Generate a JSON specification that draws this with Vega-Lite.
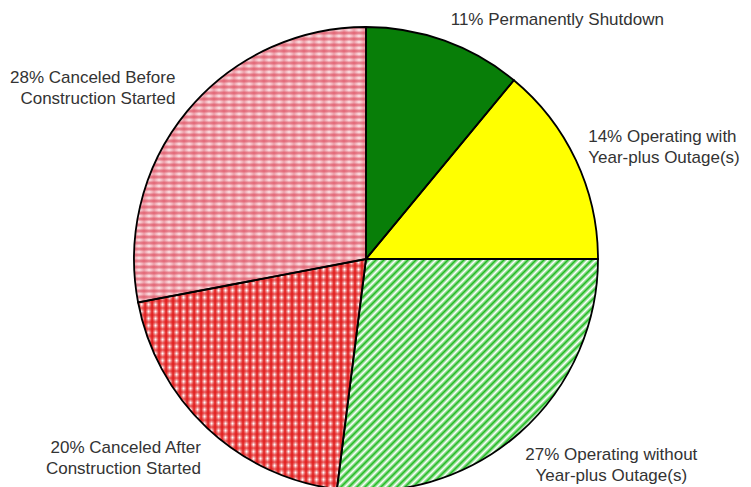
{
  "$schema": "https://vega.github.io/schema/vega-lite/v6.json",
  "autosize": {"type": "none"},
  "width": 732,
  "height": 456,
  "padding": {"left": 0, "top": 31, "right": 19, "bottom": 0},
  "background": "white",
  "config": {"view": {"stroke": null}},
  "data": {"values": [
    {"order": 1, "label": "11% Permanently Shutdown", "pct": 11},
    {"order": 2, "label": "14% Operating with\nYear-plus Outage(s)", "pct": 14},
    {"order": 3, "label": "27% Operating without\nYear-plus Outage(s)", "pct": 27},
    {"order": 4, "label": "20% Canceled After\nConstruction Started", "pct": 20},
    {"order": 5, "label": "28% Canceled Before\nConstruction Started", "pct": 28}
  ]},
  "encoding": {
    "theta": {"field": "pct", "type": "quantitative", "stack": true},
    "order": {"field": "order", "type": "quantitative"}
  },
  "layer": [
    {
      "mark": {"type": "arc", "outerRadius": 232, "strokeWidth": 0},
      "encoding": {
        "fill": {
          "condition": [
            {"test": "datum.order == 1", "value": "#087e08"},
            {"test": "datum.order == 2", "value": "#ffff00"},
            {"test": "datum.order == 3", "value": {"gradient": "linear", "x1": 0, "y1": 0, "x2": 0.856, "y2": 0.761, "stops": [
              {"offset":0,"color":"#2b2"},{"offset":0.01,"color":"#fff"},{"offset":0.02,"color":"#2b2"},{"offset":0.03,"color":"#fff"},{"offset":0.04,"color":"#2b2"},{"offset":0.05,"color":"#fff"},{"offset":0.06,"color":"#2b2"},{"offset":0.07,"color":"#fff"},{"offset":0.08,"color":"#2b2"},{"offset":0.09,"color":"#fff"},
              {"offset":0.1,"color":"#2b2"},{"offset":0.11,"color":"#fff"},{"offset":0.12,"color":"#2b2"},{"offset":0.13,"color":"#fff"},{"offset":0.14,"color":"#2b2"},{"offset":0.15,"color":"#fff"},{"offset":0.16,"color":"#2b2"},{"offset":0.17,"color":"#fff"},{"offset":0.18,"color":"#2b2"},{"offset":0.19,"color":"#fff"},
              {"offset":0.2,"color":"#2b2"},{"offset":0.21,"color":"#fff"},{"offset":0.22,"color":"#2b2"},{"offset":0.23,"color":"#fff"},{"offset":0.24,"color":"#2b2"},{"offset":0.25,"color":"#fff"},{"offset":0.26,"color":"#2b2"},{"offset":0.27,"color":"#fff"},{"offset":0.28,"color":"#2b2"},{"offset":0.29,"color":"#fff"},
              {"offset":0.3,"color":"#2b2"},{"offset":0.31,"color":"#fff"},{"offset":0.32,"color":"#2b2"},{"offset":0.33,"color":"#fff"},{"offset":0.34,"color":"#2b2"},{"offset":0.35,"color":"#fff"},{"offset":0.36,"color":"#2b2"},{"offset":0.37,"color":"#fff"},{"offset":0.38,"color":"#2b2"},{"offset":0.39,"color":"#fff"},
              {"offset":0.4,"color":"#2b2"},{"offset":0.41,"color":"#fff"},{"offset":0.42,"color":"#2b2"},{"offset":0.43,"color":"#fff"},{"offset":0.44,"color":"#2b2"},{"offset":0.45,"color":"#fff"},{"offset":0.46,"color":"#2b2"},{"offset":0.47,"color":"#fff"},{"offset":0.48,"color":"#2b2"},{"offset":0.49,"color":"#fff"},
              {"offset":0.5,"color":"#2b2"},{"offset":0.51,"color":"#fff"},{"offset":0.52,"color":"#2b2"},{"offset":0.53,"color":"#fff"},{"offset":0.54,"color":"#2b2"},{"offset":0.55,"color":"#fff"},{"offset":0.56,"color":"#2b2"},{"offset":0.57,"color":"#fff"},{"offset":0.58,"color":"#2b2"},{"offset":0.59,"color":"#fff"},
              {"offset":0.6,"color":"#2b2"},{"offset":0.61,"color":"#fff"},{"offset":0.62,"color":"#2b2"},{"offset":0.63,"color":"#fff"},{"offset":0.64,"color":"#2b2"},{"offset":0.65,"color":"#fff"},{"offset":0.66,"color":"#2b2"},{"offset":0.67,"color":"#fff"},{"offset":0.68,"color":"#2b2"},{"offset":0.69,"color":"#fff"},
              {"offset":0.7,"color":"#2b2"},{"offset":0.71,"color":"#fff"},{"offset":0.72,"color":"#2b2"},{"offset":0.73,"color":"#fff"},{"offset":0.74,"color":"#2b2"},{"offset":0.75,"color":"#fff"},{"offset":0.76,"color":"#2b2"},{"offset":0.77,"color":"#fff"},{"offset":0.78,"color":"#2b2"},{"offset":0.79,"color":"#fff"},
              {"offset":0.8,"color":"#2b2"},{"offset":0.81,"color":"#fff"},{"offset":0.82,"color":"#2b2"},{"offset":0.83,"color":"#fff"},{"offset":0.84,"color":"#2b2"},{"offset":0.85,"color":"#fff"},{"offset":0.86,"color":"#2b2"},{"offset":0.87,"color":"#fff"},{"offset":0.88,"color":"#2b2"},{"offset":0.89,"color":"#fff"},
              {"offset":0.9,"color":"#2b2"},{"offset":0.91,"color":"#fff"},{"offset":0.92,"color":"#2b2"},{"offset":0.93,"color":"#fff"},{"offset":0.94,"color":"#2b2"},{"offset":0.95,"color":"#fff"},{"offset":0.96,"color":"#2b2"},{"offset":0.97,"color":"#fff"},{"offset":0.98,"color":"#2b2"},{"offset":0.99,"color":"#fff"},
              {"offset":1,"color":"#2b2"}
            ]}},
            {"test": "datum.order == 4", "value": {"gradient": "linear", "x1": 0, "y1": 0, "x2": 1.228, "y2": 0, "stops": [
              {"offset":0,"color":"#e01818"},{"offset":0.0125,"color":"#fff"},{"offset":0.025,"color":"#e01818"},{"offset":0.0375,"color":"#fff"},{"offset":0.05,"color":"#e01818"},{"offset":0.0625,"color":"#fff"},{"offset":0.075,"color":"#e01818"},{"offset":0.0875,"color":"#fff"},
              {"offset":0.1,"color":"#e01818"},{"offset":0.1125,"color":"#fff"},{"offset":0.125,"color":"#e01818"},{"offset":0.1375,"color":"#fff"},{"offset":0.15,"color":"#e01818"},{"offset":0.1625,"color":"#fff"},{"offset":0.175,"color":"#e01818"},{"offset":0.1875,"color":"#fff"},
              {"offset":0.2,"color":"#e01818"},{"offset":0.2125,"color":"#fff"},{"offset":0.225,"color":"#e01818"},{"offset":0.2375,"color":"#fff"},{"offset":0.25,"color":"#e01818"},{"offset":0.2625,"color":"#fff"},{"offset":0.275,"color":"#e01818"},{"offset":0.2875,"color":"#fff"},
              {"offset":0.3,"color":"#e01818"},{"offset":0.3125,"color":"#fff"},{"offset":0.325,"color":"#e01818"},{"offset":0.3375,"color":"#fff"},{"offset":0.35,"color":"#e01818"},{"offset":0.3625,"color":"#fff"},{"offset":0.375,"color":"#e01818"},{"offset":0.3875,"color":"#fff"},
              {"offset":0.4,"color":"#e01818"},{"offset":0.4125,"color":"#fff"},{"offset":0.425,"color":"#e01818"},{"offset":0.4375,"color":"#fff"},{"offset":0.45,"color":"#e01818"},{"offset":0.4625,"color":"#fff"},{"offset":0.475,"color":"#e01818"},{"offset":0.4875,"color":"#fff"},
              {"offset":0.5,"color":"#e01818"},{"offset":0.5125,"color":"#fff"},{"offset":0.525,"color":"#e01818"},{"offset":0.5375,"color":"#fff"},{"offset":0.55,"color":"#e01818"},{"offset":0.5625,"color":"#fff"},{"offset":0.575,"color":"#e01818"},{"offset":0.5875,"color":"#fff"},
              {"offset":0.6,"color":"#e01818"},{"offset":0.6125,"color":"#fff"},{"offset":0.625,"color":"#e01818"},{"offset":0.6375,"color":"#fff"},{"offset":0.65,"color":"#e01818"},{"offset":0.6625,"color":"#fff"},{"offset":0.675,"color":"#e01818"},{"offset":0.6875,"color":"#fff"},
              {"offset":0.7,"color":"#e01818"},{"offset":0.7125,"color":"#fff"},{"offset":0.725,"color":"#e01818"},{"offset":0.7375,"color":"#fff"},{"offset":0.75,"color":"#e01818"},{"offset":0.7625,"color":"#fff"},{"offset":0.775,"color":"#e01818"},{"offset":0.7875,"color":"#fff"},
              {"offset":0.8,"color":"#e01818"},{"offset":0.8125,"color":"#fff"},{"offset":0.825,"color":"#e01818"},{"offset":0.8375,"color":"#fff"},{"offset":0.85,"color":"#e01818"},{"offset":0.8625,"color":"#fff"},{"offset":0.875,"color":"#e01818"},{"offset":0.8875,"color":"#fff"},
              {"offset":0.9,"color":"#e01818"},{"offset":0.9125,"color":"#fff"},{"offset":0.925,"color":"#e01818"},{"offset":0.9375,"color":"#fff"},{"offset":0.95,"color":"#e01818"},{"offset":0.9625,"color":"#fff"},{"offset":0.975,"color":"#e01818"},{"offset":0.9875,"color":"#fff"},
              {"offset":1,"color":"#e01818"}
            ]}}
          ],
          "value": {"gradient": "linear", "x1": 0, "y1": 0, "x2": 0, "y2": 1.089, "stops": [
            {"offset":0,"color":"#e4707e"},{"offset":0.01,"color":"#fff4f5"},{"offset":0.02,"color":"#e4707e"},{"offset":0.03,"color":"#fff4f5"},{"offset":0.04,"color":"#e4707e"},{"offset":0.05,"color":"#fff4f5"},{"offset":0.06,"color":"#e4707e"},{"offset":0.07,"color":"#fff4f5"},{"offset":0.08,"color":"#e4707e"},{"offset":0.09,"color":"#fff4f5"},
            {"offset":0.1,"color":"#e4707e"},{"offset":0.11,"color":"#fff4f5"},{"offset":0.12,"color":"#e4707e"},{"offset":0.13,"color":"#fff4f5"},{"offset":0.14,"color":"#e4707e"},{"offset":0.15,"color":"#fff4f5"},{"offset":0.16,"color":"#e4707e"},{"offset":0.17,"color":"#fff4f5"},{"offset":0.18,"color":"#e4707e"},{"offset":0.19,"color":"#fff4f5"},
            {"offset":0.2,"color":"#e4707e"},{"offset":0.21,"color":"#fff4f5"},{"offset":0.22,"color":"#e4707e"},{"offset":0.23,"color":"#fff4f5"},{"offset":0.24,"color":"#e4707e"},{"offset":0.25,"color":"#fff4f5"},{"offset":0.26,"color":"#e4707e"},{"offset":0.27,"color":"#fff4f5"},{"offset":0.28,"color":"#e4707e"},{"offset":0.29,"color":"#fff4f5"},
            {"offset":0.3,"color":"#e4707e"},{"offset":0.31,"color":"#fff4f5"},{"offset":0.32,"color":"#e4707e"},{"offset":0.33,"color":"#fff4f5"},{"offset":0.34,"color":"#e4707e"},{"offset":0.35,"color":"#fff4f5"},{"offset":0.36,"color":"#e4707e"},{"offset":0.37,"color":"#fff4f5"},{"offset":0.38,"color":"#e4707e"},{"offset":0.39,"color":"#fff4f5"},
            {"offset":0.4,"color":"#e4707e"},{"offset":0.41,"color":"#fff4f5"},{"offset":0.42,"color":"#e4707e"},{"offset":0.43,"color":"#fff4f5"},{"offset":0.44,"color":"#e4707e"},{"offset":0.45,"color":"#fff4f5"},{"offset":0.46,"color":"#e4707e"},{"offset":0.47,"color":"#fff4f5"},{"offset":0.48,"color":"#e4707e"},{"offset":0.49,"color":"#fff4f5"},
            {"offset":0.5,"color":"#e4707e"},{"offset":0.51,"color":"#fff4f5"},{"offset":0.52,"color":"#e4707e"},{"offset":0.53,"color":"#fff4f5"},{"offset":0.54,"color":"#e4707e"},{"offset":0.55,"color":"#fff4f5"},{"offset":0.56,"color":"#e4707e"},{"offset":0.57,"color":"#fff4f5"},{"offset":0.58,"color":"#e4707e"},{"offset":0.59,"color":"#fff4f5"},
            {"offset":0.6,"color":"#e4707e"},{"offset":0.61,"color":"#fff4f5"},{"offset":0.62,"color":"#e4707e"},{"offset":0.63,"color":"#fff4f5"},{"offset":0.64,"color":"#e4707e"},{"offset":0.65,"color":"#fff4f5"},{"offset":0.66,"color":"#e4707e"},{"offset":0.67,"color":"#fff4f5"},{"offset":0.68,"color":"#e4707e"},{"offset":0.69,"color":"#fff4f5"},
            {"offset":0.7,"color":"#e4707e"},{"offset":0.71,"color":"#fff4f5"},{"offset":0.72,"color":"#e4707e"},{"offset":0.73,"color":"#fff4f5"},{"offset":0.74,"color":"#e4707e"},{"offset":0.75,"color":"#fff4f5"},{"offset":0.76,"color":"#e4707e"},{"offset":0.77,"color":"#fff4f5"},{"offset":0.78,"color":"#e4707e"},{"offset":0.79,"color":"#fff4f5"},
            {"offset":0.8,"color":"#e4707e"},{"offset":0.81,"color":"#fff4f5"},{"offset":0.82,"color":"#e4707e"},{"offset":0.83,"color":"#fff4f5"},{"offset":0.84,"color":"#e4707e"},{"offset":0.85,"color":"#fff4f5"},{"offset":0.86,"color":"#e4707e"},{"offset":0.87,"color":"#fff4f5"},{"offset":0.88,"color":"#e4707e"},{"offset":0.89,"color":"#fff4f5"},
            {"offset":0.9,"color":"#e4707e"},{"offset":0.91,"color":"#fff4f5"},{"offset":0.92,"color":"#e4707e"},{"offset":0.93,"color":"#fff4f5"},{"offset":0.94,"color":"#e4707e"},{"offset":0.95,"color":"#fff4f5"},{"offset":0.96,"color":"#e4707e"},{"offset":0.97,"color":"#fff4f5"},{"offset":0.98,"color":"#e4707e"},{"offset":0.99,"color":"#fff4f5"},
            {"offset":1,"color":"#e4707e"}
          ]}
        }
      }
    },
    {
      "mark": {"type": "arc", "outerRadius": 232, "stroke": "#000000", "strokeWidth": 1.8},
      "encoding": {
        "fill": {
          "condition": [
            {"test": "datum.order == 4", "value": {"gradient": "linear", "x1": 0, "y1": 0, "x2": 0, "y2": 1.217, "stops": [
              {"offset":0,"color":"rgba(224,24,24,0.75)"},{"offset":0.0125,"color":"rgba(224,24,24,0)"},{"offset":0.025,"color":"rgba(224,24,24,0.75)"},{"offset":0.0375,"color":"rgba(224,24,24,0)"},{"offset":0.05,"color":"rgba(224,24,24,0.75)"},{"offset":0.0625,"color":"rgba(224,24,24,0)"},{"offset":0.075,"color":"rgba(224,24,24,0.75)"},{"offset":0.0875,"color":"rgba(224,24,24,0)"},
              {"offset":0.1,"color":"rgba(224,24,24,0.75)"},{"offset":0.1125,"color":"rgba(224,24,24,0)"},{"offset":0.125,"color":"rgba(224,24,24,0.75)"},{"offset":0.1375,"color":"rgba(224,24,24,0)"},{"offset":0.15,"color":"rgba(224,24,24,0.75)"},{"offset":0.1625,"color":"rgba(224,24,24,0)"},{"offset":0.175,"color":"rgba(224,24,24,0.75)"},{"offset":0.1875,"color":"rgba(224,24,24,0)"},
              {"offset":0.2,"color":"rgba(224,24,24,0.75)"},{"offset":0.2125,"color":"rgba(224,24,24,0)"},{"offset":0.225,"color":"rgba(224,24,24,0.75)"},{"offset":0.2375,"color":"rgba(224,24,24,0)"},{"offset":0.25,"color":"rgba(224,24,24,0.75)"},{"offset":0.2625,"color":"rgba(224,24,24,0)"},{"offset":0.275,"color":"rgba(224,24,24,0.75)"},{"offset":0.2875,"color":"rgba(224,24,24,0)"},
              {"offset":0.3,"color":"rgba(224,24,24,0.75)"},{"offset":0.3125,"color":"rgba(224,24,24,0)"},{"offset":0.325,"color":"rgba(224,24,24,0.75)"},{"offset":0.3375,"color":"rgba(224,24,24,0)"},{"offset":0.35,"color":"rgba(224,24,24,0.75)"},{"offset":0.3625,"color":"rgba(224,24,24,0)"},{"offset":0.375,"color":"rgba(224,24,24,0.75)"},{"offset":0.3875,"color":"rgba(224,24,24,0)"},
              {"offset":0.4,"color":"rgba(224,24,24,0.75)"},{"offset":0.4125,"color":"rgba(224,24,24,0)"},{"offset":0.425,"color":"rgba(224,24,24,0.75)"},{"offset":0.4375,"color":"rgba(224,24,24,0)"},{"offset":0.45,"color":"rgba(224,24,24,0.75)"},{"offset":0.4625,"color":"rgba(224,24,24,0)"},{"offset":0.475,"color":"rgba(224,24,24,0.75)"},{"offset":0.4875,"color":"rgba(224,24,24,0)"},
              {"offset":0.5,"color":"rgba(224,24,24,0.75)"},{"offset":0.5125,"color":"rgba(224,24,24,0)"},{"offset":0.525,"color":"rgba(224,24,24,0.75)"},{"offset":0.5375,"color":"rgba(224,24,24,0)"},{"offset":0.55,"color":"rgba(224,24,24,0.75)"},{"offset":0.5625,"color":"rgba(224,24,24,0)"},{"offset":0.575,"color":"rgba(224,24,24,0.75)"},{"offset":0.5875,"color":"rgba(224,24,24,0)"},
              {"offset":0.6,"color":"rgba(224,24,24,0.75)"},{"offset":0.6125,"color":"rgba(224,24,24,0)"},{"offset":0.625,"color":"rgba(224,24,24,0.75)"},{"offset":0.6375,"color":"rgba(224,24,24,0)"},{"offset":0.65,"color":"rgba(224,24,24,0.75)"},{"offset":0.6625,"color":"rgba(224,24,24,0)"},{"offset":0.675,"color":"rgba(224,24,24,0.75)"},{"offset":0.6875,"color":"rgba(224,24,24,0)"},
              {"offset":0.7,"color":"rgba(224,24,24,0.75)"},{"offset":0.7125,"color":"rgba(224,24,24,0)"},{"offset":0.725,"color":"rgba(224,24,24,0.75)"},{"offset":0.7375,"color":"rgba(224,24,24,0)"},{"offset":0.75,"color":"rgba(224,24,24,0.75)"},{"offset":0.7625,"color":"rgba(224,24,24,0)"},{"offset":0.775,"color":"rgba(224,24,24,0.75)"},{"offset":0.7875,"color":"rgba(224,24,24,0)"},
              {"offset":0.8,"color":"rgba(224,24,24,0.75)"},{"offset":0.8125,"color":"rgba(224,24,24,0)"},{"offset":0.825,"color":"rgba(224,24,24,0.75)"},{"offset":0.8375,"color":"rgba(224,24,24,0)"},{"offset":0.85,"color":"rgba(224,24,24,0.75)"},{"offset":0.8625,"color":"rgba(224,24,24,0)"},{"offset":0.875,"color":"rgba(224,24,24,0.75)"},{"offset":0.8875,"color":"rgba(224,24,24,0)"},
              {"offset":0.9,"color":"rgba(224,24,24,0.75)"},{"offset":0.9125,"color":"rgba(224,24,24,0)"},{"offset":0.925,"color":"rgba(224,24,24,0.75)"},{"offset":0.9375,"color":"rgba(224,24,24,0)"},{"offset":0.95,"color":"rgba(224,24,24,0.75)"},{"offset":0.9625,"color":"rgba(224,24,24,0)"},{"offset":0.975,"color":"rgba(224,24,24,0.75)"},{"offset":0.9875,"color":"rgba(224,24,24,0)"},
              {"offset":1,"color":"rgba(224,24,24,0.75)"}
            ]}},
            {"test": "datum.order == 5", "value": {"gradient": "linear", "x1": 0, "y1": 0, "x2": 1.724, "y2": 0, "stops": [
              {"offset":0,"color":"rgba(220,70,90,0.45)"},{"offset":0.0125,"color":"rgba(220,70,90,0)"},{"offset":0.025,"color":"rgba(220,70,90,0.45)"},{"offset":0.0375,"color":"rgba(220,70,90,0)"},{"offset":0.05,"color":"rgba(220,70,90,0.45)"},{"offset":0.0625,"color":"rgba(220,70,90,0)"},{"offset":0.075,"color":"rgba(220,70,90,0.45)"},{"offset":0.0875,"color":"rgba(220,70,90,0)"},
              {"offset":0.1,"color":"rgba(220,70,90,0.45)"},{"offset":0.1125,"color":"rgba(220,70,90,0)"},{"offset":0.125,"color":"rgba(220,70,90,0.45)"},{"offset":0.1375,"color":"rgba(220,70,90,0)"},{"offset":0.15,"color":"rgba(220,70,90,0.45)"},{"offset":0.1625,"color":"rgba(220,70,90,0)"},{"offset":0.175,"color":"rgba(220,70,90,0.45)"},{"offset":0.1875,"color":"rgba(220,70,90,0)"},
              {"offset":0.2,"color":"rgba(220,70,90,0.45)"},{"offset":0.2125,"color":"rgba(220,70,90,0)"},{"offset":0.225,"color":"rgba(220,70,90,0.45)"},{"offset":0.2375,"color":"rgba(220,70,90,0)"},{"offset":0.25,"color":"rgba(220,70,90,0.45)"},{"offset":0.2625,"color":"rgba(220,70,90,0)"},{"offset":0.275,"color":"rgba(220,70,90,0.45)"},{"offset":0.2875,"color":"rgba(220,70,90,0)"},
              {"offset":0.3,"color":"rgba(220,70,90,0.45)"},{"offset":0.3125,"color":"rgba(220,70,90,0)"},{"offset":0.325,"color":"rgba(220,70,90,0.45)"},{"offset":0.3375,"color":"rgba(220,70,90,0)"},{"offset":0.35,"color":"rgba(220,70,90,0.45)"},{"offset":0.3625,"color":"rgba(220,70,90,0)"},{"offset":0.375,"color":"rgba(220,70,90,0.45)"},{"offset":0.3875,"color":"rgba(220,70,90,0)"},
              {"offset":0.4,"color":"rgba(220,70,90,0.45)"},{"offset":0.4125,"color":"rgba(220,70,90,0)"},{"offset":0.425,"color":"rgba(220,70,90,0.45)"},{"offset":0.4375,"color":"rgba(220,70,90,0)"},{"offset":0.45,"color":"rgba(220,70,90,0.45)"},{"offset":0.4625,"color":"rgba(220,70,90,0)"},{"offset":0.475,"color":"rgba(220,70,90,0.45)"},{"offset":0.4875,"color":"rgba(220,70,90,0)"},
              {"offset":0.5,"color":"rgba(220,70,90,0.45)"},{"offset":0.5125,"color":"rgba(220,70,90,0)"},{"offset":0.525,"color":"rgba(220,70,90,0.45)"},{"offset":0.5375,"color":"rgba(220,70,90,0)"},{"offset":0.55,"color":"rgba(220,70,90,0.45)"},{"offset":0.5625,"color":"rgba(220,70,90,0)"},{"offset":0.575,"color":"rgba(220,70,90,0.45)"},{"offset":0.5875,"color":"rgba(220,70,90,0)"},
              {"offset":0.6,"color":"rgba(220,70,90,0.45)"},{"offset":0.6125,"color":"rgba(220,70,90,0)"},{"offset":0.625,"color":"rgba(220,70,90,0.45)"},{"offset":0.6375,"color":"rgba(220,70,90,0)"},{"offset":0.65,"color":"rgba(220,70,90,0.45)"},{"offset":0.6625,"color":"rgba(220,70,90,0)"},{"offset":0.675,"color":"rgba(220,70,90,0.45)"},{"offset":0.6875,"color":"rgba(220,70,90,0)"},
              {"offset":0.7,"color":"rgba(220,70,90,0.45)"},{"offset":0.7125,"color":"rgba(220,70,90,0)"},{"offset":0.725,"color":"rgba(220,70,90,0.45)"},{"offset":0.7375,"color":"rgba(220,70,90,0)"},{"offset":0.75,"color":"rgba(220,70,90,0.45)"},{"offset":0.7625,"color":"rgba(220,70,90,0)"},{"offset":0.775,"color":"rgba(220,70,90,0.45)"},{"offset":0.7875,"color":"rgba(220,70,90,0)"},
              {"offset":0.8,"color":"rgba(220,70,90,0.45)"},{"offset":0.8125,"color":"rgba(220,70,90,0)"},{"offset":0.825,"color":"rgba(220,70,90,0.45)"},{"offset":0.8375,"color":"rgba(220,70,90,0)"},{"offset":0.85,"color":"rgba(220,70,90,0.45)"},{"offset":0.8625,"color":"rgba(220,70,90,0)"},{"offset":0.875,"color":"rgba(220,70,90,0.45)"},{"offset":0.8875,"color":"rgba(220,70,90,0)"},
              {"offset":0.9,"color":"rgba(220,70,90,0.45)"},{"offset":0.9125,"color":"rgba(220,70,90,0)"},{"offset":0.925,"color":"rgba(220,70,90,0.45)"},{"offset":0.9375,"color":"rgba(220,70,90,0)"},{"offset":0.95,"color":"rgba(220,70,90,0.45)"},{"offset":0.9625,"color":"rgba(220,70,90,0)"},{"offset":0.975,"color":"rgba(220,70,90,0.45)"},{"offset":0.9875,"color":"rgba(220,70,90,0)"},
              {"offset":1,"color":"rgba(220,70,90,0.45)"}
            ]}}
          ],
          "value": "transparent"
        }
      }
    },
    {
      "mark": {
        "type": "text",
        "radius": 250,
        "align": {"expr": "datum.order == 3 ? 'center' : datum.order <= 2 ? 'left' : 'right'"},
        "dx": {"expr": "datum.order == 2 ? -4 : datum.order == 3 ? 80 : datum.order == 4 ? 6 : datum.order == 5 ? 2 : 0"},
        "dy": {"expr": "datum.order == 1 ? -4 : datum.order == 2 ? -16 : datum.order == 3 ? 8 : datum.order == 4 ? 7 : -22"},
        "baseline": "middle",
        "lineBreak": "\n",
        "font": "Liberation Sans",
        "fontSize": 17,
        "lineHeight": 21,
        "fill": "#333333"
      },
      "encoding": {"text": {"field": "label", "type": "nominal"}}
    }
  ]
}
